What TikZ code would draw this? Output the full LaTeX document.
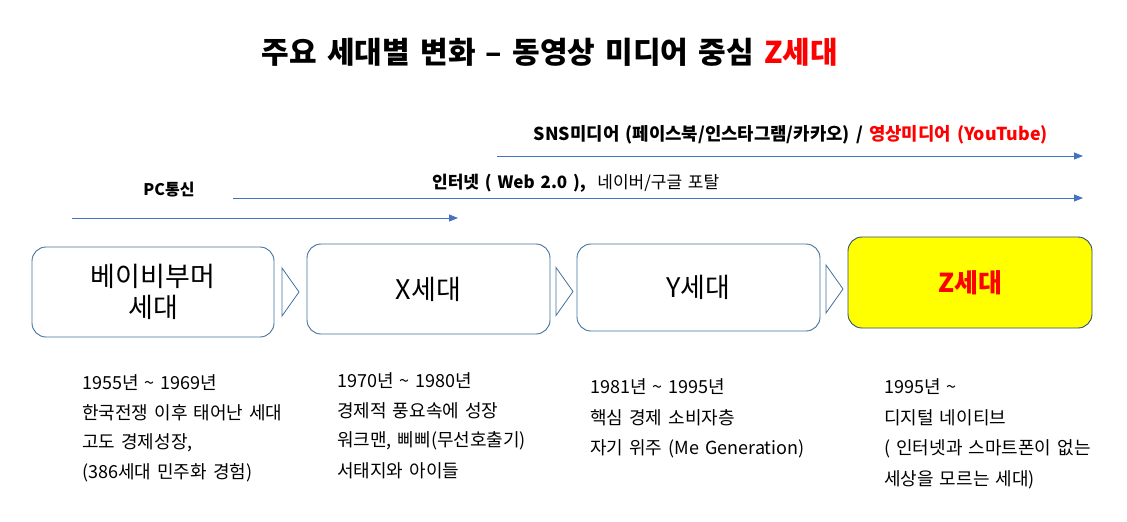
\documentclass[tikz,border=0pt]{standalone}
\usepackage{fontspec}
\setmainfont{Noto Sans CJK KR}[WordSpace=1.5]
\usepackage{xcolor}
\usepackage{tikz}
\usetikzlibrary{arrows.meta}
\usetikzlibrary{calc}
\definecolor{boxline}{HTML}{41719C}
\definecolor{eraline}{HTML}{4472C4}
\definecolor{zred}{HTML}{FF0000}
\definecolor{zfill}{HTML}{FFFF00}

\begin{document}
\begin{tikzpicture}[x=1pt,y=-1pt,
    gen/.style={draw=boxline,line width=0.9pt,rounded corners=14pt,minimum width=242pt,minimum height=90pt,inner sep=0pt,align=center,font=\fontsize{27}{31}\selectfont},
    era/.style={draw=eraline,line width=0.8pt,-{Triangle[length=9pt,width=7pt]}},
    chev/.style={draw=boxline,line width=0.8pt,fill=white},
    lbl/.style={inner sep=0pt,font=\fontsize{17}{20}\selectfont},
    desc/.style={anchor=west,inner sep=0pt,font=\fontsize{18}{20}\selectfont}]
    \useasboundingbox (0,0) rectangle (1127,522);

    \node[inner sep=0pt,font=\bfseries\fontsize{30}{34}\selectfont] (title) at (550,52) {주요 세대별 변화 – 동영상 미디어 중심 \textcolor{zred}{Z세대}};

    % media eras
    \coordinate (sns0) at (497,156);
    \coordinate (sns1) at (1083,156);
    \coordinate (web0) at (233,198);
    \coordinate (web1) at (1083,198);
    \coordinate (pc0) at (72,218);
    \coordinate (pc1) at (458,218);
    \draw[era] (sns0)--(sns1);
    \draw[era] (web0)--(web1);
    \draw[era] (pc0)--(pc1);
    \node[lbl,font=\bfseries\fontsize{17.8}{20}\selectfont] (snslbl) at (791,135) {SNS미디어 (페이스북/인스타그램/카카오) / \textcolor{zred}{영상미디어 (YouTube)}};
    \node[lbl,anchor=west] (weblbl) at (432,183) {\textbf{인터넷 ( Web 2.0 ),}\ \ 네이버/구글 포탈};
    \node[lbl,font=\bfseries\fontsize{16}{20}\selectfont] (pclbl) at (169,190) {PC통신};

    % generations
    \node[gen] (boomer) at (153,292) {베이비부머\\세대};
    \node[gen,minimum width=243pt] (genx) at (428.5,289) {X세대};
    \node[gen,minimum width=243pt,minimum height=87pt] (geny) at (698.5,287.5) {Y세대};
    \node[gen,minimum width=244pt,minimum height=91pt,fill=zfill,draw=boxline!70!black,text=zred,font=\bfseries\fontsize{26}{31}\selectfont] (genz) at (970,282.5) {Z세대};
    \foreach \cx/\cy in {282/292,556/291.5,826/289}
        \draw[chev] (\cx,\cy-24)--(\cx+17,\cy)--(\cx,\cy+24)--cycle;

    % descriptions
    \foreach \t [count=\i] in {1955년 \textasciitilde{} 1969년,한국전쟁 이후 태어난 세대,{고도 경제성장,},{(386세대 민주화 경험)}}
        \node[desc] (boomer\i) at (82,353+30*\i) {\t};
    \foreach \t [count=\i] in {1970년 \textasciitilde{} 1980년,경제적 풍요속에 성장,{워크맨, 삐삐(무선호출기)},서태지와 아이들}
        \node[desc] (genx\i) at (337,351+30*\i) {\t};
    \foreach \t [count=\i] in {1981년 \textasciitilde{} 1995년,핵심 경제 소비자층,자기 위주 (Me Generation)}
        \node[desc] (geny\i) at (590,356+31*\i) {\t};
    \foreach \t [count=\i] in {1995년 \textasciitilde,디지털 네이티브,{( 인터넷과 스마트폰이 없는},{세상을 모르는 세대)}}
        \node[desc] (genz\i) at (884,356+31*\i) {\t};
\end{tikzpicture}
\end{document}
